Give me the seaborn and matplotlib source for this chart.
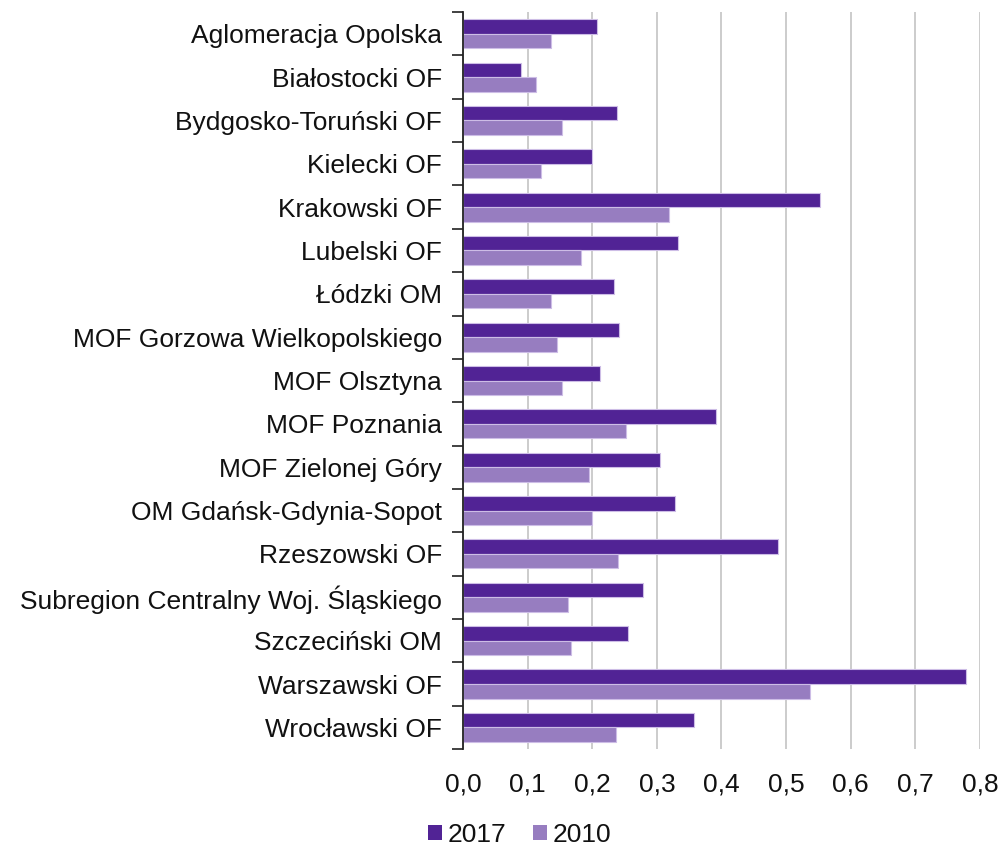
import pandas as pd
import matplotlib.pyplot as plt
import seaborn as sns
from matplotlib.ticker import FuncFormatter, FixedLocator
from matplotlib.patches import Patch

# data
regions = [
    'Aglomeracja Opolska', 'Białostocki OF', 'Bydgosko-Toruński OF', 'Kielecki OF',
    'Krakowski OF', 'Lubelski OF', 'Łódzki OM', 'MOF Gorzowa Wielkopolskiego',
    'MOF Olsztyna', 'MOF Poznania', 'MOF Zielonej Góry', 'OM Gdańsk-Gdynia-Sopot',
    'Rzeszowski OF', 'Subregion Centralny Woj. Śląskiego', 'Szczeciński OM',
    'Warszawski OF', 'Wrocławski OF',
]
values_2017 = [0.207, 0.090, 0.238, 0.199, 0.553, 0.333, 0.234, 0.241, 0.212,
               0.392, 0.305, 0.328, 0.488, 0.278, 0.255, 0.779, 0.357]
values_2010 = [0.136, 0.113, 0.153, 0.121, 0.319, 0.183, 0.136, 0.146, 0.153,
               0.252, 0.195, 0.200, 0.240, 0.162, 0.167, 0.537, 0.237]
years = ['2017', '2010']
colors = {'2017': '#512395', '2010': '#977dc0'}

df = pd.DataFrame({
    'region': regions * 2,
    'value': values_2017 + values_2010,
    'year': ['2017'] * len(regions) + ['2010'] * len(regions),
})

sns.set_style('white')
plt.rcParams['font.family'] = ['Liberation Sans', 'DejaVu Sans']

fig = plt.figure(figsize=(10.05, 8.48), dpi=100)
ax = fig.add_axes([0.4607, 0.1167, 0.5144, 0.8691])

sns.barplot(data=df, y='region', x='value', hue='year', hue_order=years,
            order=regions, palette=colors, orient='h', width=0.67,
            edgecolor='#cdbde6', linewidth=0.8, saturation=1, ax=ax, legend=False)

ax.set_xlim(0, 0.8)
ax.set_ylim(len(regions) - 0.5, -0.5)
ax.set_xticks([i / 10 for i in range(9)])
ax.xaxis.set_major_formatter(FuncFormatter(lambda v, p: f'{v:.1f}'.replace('.', ',')))
ax.grid(axis='x', color='#c8c8c8', linewidth=1.3)
ax.set_axisbelow(True)
ax.set_xlabel('')
ax.set_ylabel('')

# category boundary ticks on the y axis
ax.yaxis.set_minor_locator(FixedLocator([k - 0.5 for k in range(len(regions) + 1)]))
ax.tick_params(axis='y', which='major', length=0, pad=15, labelsize=19, labelcolor='#111111')
ax.tick_params(axis='y', which='minor', length=8, width=1.3, color='#333333', left=True)
ax.tick_params(axis='x', length=0, pad=17, labelsize=19, labelcolor='#111111')

for side in ['top', 'right', 'bottom']:
    ax.spines[side].set_visible(False)
ax.spines['left'].set_color('#222222')
ax.spines['left'].set_linewidth(1.3)

handles = [Patch(facecolor=colors[y], edgecolor='none', label=y) for y in years]
fig.legend(handles=handles, loc='center', bbox_to_anchor=(0.517, 0.0155), ncol=2,
           frameon=False, fontsize=19, handlelength=0.55, handleheight=0.55,
           handletextpad=0.2, columnspacing=1.0, labelcolor='#111111')

plt.savefig('out.png', dpi=100)
